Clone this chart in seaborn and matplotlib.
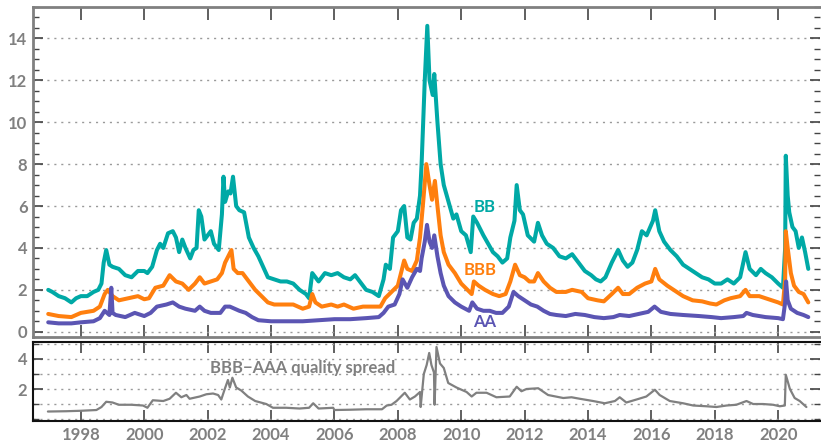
import numpy as np
import pandas as pd
import matplotlib
matplotlib.use("Agg")
import matplotlib.pyplot as plt
from matplotlib.ticker import MultipleLocator
import seaborn as sns

# ---- data (decimal year, spread in %) ----
bb_t = [1996.97, 1997.1, 1997.3, 1997.5, 1997.7, 1997.85, 1998.0, 1998.2, 1998.4, 1998.55,
        1998.65, 1998.72, 1998.8, 1998.9, 1999.0, 1999.2, 1999.4, 1999.6, 1999.8, 2000.0,
        2000.1, 2000.25, 2000.4, 2000.5, 2000.6, 2000.75, 2000.9, 2001.0, 2001.1, 2001.2,
        2001.3, 2001.45, 2001.55, 2001.65, 2001.72, 2001.8, 2001.9, 2002.0, 2002.1, 2002.2,
        2002.35, 2002.45, 2002.5, 2002.55, 2002.65, 2002.72, 2002.8, 2002.9, 2003.0, 2003.15,
        2003.3, 2003.45, 2003.6, 2003.75, 2003.9, 2004.1, 2004.3, 2004.5, 2004.7, 2004.9,
        2005.1, 2005.2, 2005.3, 2005.4, 2005.5, 2005.7, 2005.9, 2006.1, 2006.3, 2006.5,
        2006.65, 2006.8, 2007.0, 2007.2, 2007.4, 2007.55, 2007.62, 2007.75, 2007.85, 2008.0,
        2008.1, 2008.2, 2008.3, 2008.4, 2008.5, 2008.6, 2008.7, 2008.75, 2008.85, 2008.93,
        2009.0, 2009.1, 2009.15, 2009.25, 2009.35, 2009.45, 2009.6, 2009.75, 2009.85, 2010.0,
        2010.15, 2010.3, 2010.38, 2010.5, 2010.7, 2010.85, 2011.0, 2011.15, 2011.3, 2011.45,
        2011.55, 2011.68, 2011.75, 2011.85, 2011.95, 2012.1, 2012.3, 2012.42, 2012.55, 2012.7,
        2012.9, 2013.1, 2013.3, 2013.5, 2013.7, 2013.9, 2014.1, 2014.25, 2014.4, 2014.55,
        2014.75, 2014.95, 2015.1, 2015.25, 2015.4, 2015.55, 2015.7, 2015.85, 2016.05, 2016.12,
        2016.25, 2016.4, 2016.6, 2016.8, 2017.0, 2017.2, 2017.4, 2017.6, 2017.8, 2018.0,
        2018.2, 2018.4, 2018.6, 2018.8, 2018.97, 2019.1, 2019.3, 2019.45, 2019.6, 2019.8,
        2020.0, 2020.15, 2020.22, 2020.24, 2020.3, 2020.35, 2020.45, 2020.55, 2020.65, 2020.75,
        2020.85, 2020.95]
bb_v = [2.0, 1.9, 1.7, 1.6, 1.4, 1.6, 1.7, 1.7, 1.9, 2.0,
        2.3, 3.3, 3.9, 3.2, 3.1, 3.0, 2.7, 2.6, 2.9, 2.9,
        2.8, 3.1, 3.9, 4.2, 4.0, 4.7, 4.8, 4.5, 3.8, 4.4,
        4.0, 3.5, 3.9, 4.0, 5.8, 5.5, 4.4, 4.6, 4.8, 4.2,
        3.9, 5.6, 7.4, 6.2, 6.7, 6.6, 7.4, 6.0, 5.8, 5.7,
        4.5, 4.0, 3.6, 3.1, 2.6, 2.5, 2.4, 2.4, 2.3, 2.0,
        1.8, 1.6, 2.8, 2.6, 2.4, 2.8, 2.7, 2.8, 2.6, 2.5,
        2.7, 2.4, 2.0, 1.9, 1.7, 2.5, 3.2, 3.0, 4.5, 4.8,
        5.8, 6.0, 4.5, 4.4, 5.2, 5.4, 6.5, 8.0, 12.0, 14.6,
        12.0, 11.3, 12.3, 10.0, 8.0, 7.0, 6.2, 5.4, 5.6, 4.8,
        4.6, 3.8, 5.5, 5.2, 4.6, 4.2, 3.8, 3.6, 3.3, 3.5,
        4.5, 5.3, 7.0, 5.8, 5.6, 4.6, 4.3, 5.2, 4.6, 4.2,
        4.0, 3.6, 3.5, 3.7, 3.3, 2.9, 2.7, 2.5, 2.4, 2.6,
        3.3, 3.9, 3.4, 3.1, 3.3, 3.9, 4.8, 4.6, 5.3, 5.8,
        4.8, 4.3, 3.9, 3.6, 3.2, 3.0, 2.8, 2.6, 2.5, 2.3,
        2.3, 2.5, 2.3, 2.6, 3.8, 3.0, 2.7, 3.0, 2.8, 2.6,
        2.3, 2.1, 4.0, 8.4, 6.5, 5.7, 5.0, 4.8, 4.0, 4.5,
        3.8, 3.0]

bbb_t = [1996.97, 1997.3, 1997.7, 1998.0, 1998.4, 1998.6, 1998.75, 1998.85, 1999.0, 1999.2,
         1999.5, 1999.8, 2000.0, 2000.15, 2000.35, 2000.6, 2000.8, 2001.0, 2001.2, 2001.4,
         2001.6, 2001.75, 2001.9, 2002.1, 2002.3, 2002.45, 2002.55, 2002.65, 2002.75, 2002.82,
         2002.95, 2003.1, 2003.3, 2003.5, 2003.7, 2003.9, 2004.1, 2004.4, 2004.7, 2005.0,
         2005.2, 2005.3, 2005.4, 2005.6, 2005.9, 2006.1, 2006.3, 2006.6, 2006.9, 2007.2,
         2007.45, 2007.6, 2007.8, 2008.0, 2008.2, 2008.3, 2008.45, 2008.6, 2008.7, 2008.8,
         2008.9, 2009.0, 2009.08, 2009.17, 2009.25, 2009.35, 2009.45, 2009.6, 2009.8, 2010.0,
         2010.2, 2010.33, 2010.4, 2010.55, 2010.75, 2011.0, 2011.2, 2011.4, 2011.55, 2011.7,
         2011.85, 2012.0, 2012.15, 2012.3, 2012.42, 2012.6, 2012.8, 2013.0, 2013.3, 2013.5,
         2013.8, 2014.0, 2014.3, 2014.5, 2014.75, 2014.95, 2015.1, 2015.3, 2015.55, 2015.8,
         2016.0, 2016.12, 2016.25, 2016.5, 2016.8, 2017.0, 2017.3, 2017.6, 2017.85, 2018.05,
         2018.3, 2018.5, 2018.8, 2018.97, 2019.1, 2019.4, 2019.6, 2019.8, 2020.0, 2020.15,
         2020.22, 2020.24, 2020.3, 2020.4, 2020.5, 2020.65, 2020.8, 2020.95]
bbb_v = [0.85, 0.75, 0.7, 0.9, 1.0, 1.2, 1.8, 2.0, 1.7, 1.5,
         1.6, 1.7, 1.55, 1.6, 2.1, 2.2, 2.7, 2.4, 2.3, 2.0,
         2.3, 2.6, 2.3, 2.4, 2.5, 2.8, 3.3, 3.6, 3.9, 3.0,
         2.8, 2.8, 2.4, 2.0, 1.7, 1.4, 1.3, 1.3, 1.3, 1.1,
         1.2, 1.8, 1.4, 1.2, 1.3, 1.2, 1.3, 1.1, 1.2, 1.2,
         1.2, 1.6, 1.9, 2.2, 3.4, 3.0, 2.9, 3.4, 4.5, 6.2,
         8.0, 7.0, 6.3, 7.2, 6.0, 4.6, 3.8, 3.2, 2.8, 2.3,
         2.0, 1.8, 2.4, 2.2, 2.0, 1.8, 1.7, 1.8, 2.4, 3.2,
         2.7, 2.6, 2.4, 2.4, 2.8, 2.4, 2.1, 1.9, 1.9, 2.0,
         1.9, 1.6, 1.5, 1.45, 1.8, 2.1, 1.8, 1.8, 2.1, 2.3,
         2.4, 3.0, 2.5, 2.2, 1.9, 1.7, 1.5, 1.45, 1.35, 1.3,
         1.5, 1.6, 1.7, 2.0, 1.7, 1.7, 1.6, 1.5, 1.4, 1.3,
         2.5, 4.8, 4.0, 2.8, 2.2, 1.9, 1.8, 1.4]

aa_t = [1996.97, 1997.3, 1997.7, 1998.0, 1998.4, 1998.6, 1998.75, 1998.9, 1998.96, 1999.0,
        1999.1, 1999.4, 1999.7, 2000.0, 2000.2, 2000.4, 2000.7, 2000.9, 2001.1, 2001.3,
        2001.6, 2001.75, 2001.9, 2002.1, 2002.4, 2002.55, 2002.7, 2002.85, 2003.0, 2003.2,
        2003.4, 2003.6, 2004.0, 2004.5, 2005.0, 2005.5, 2006.0, 2006.5, 2007.0, 2007.4,
        2007.55, 2007.7, 2007.9, 2008.05, 2008.15, 2008.3, 2008.45, 2008.6, 2008.7, 2008.75,
        2008.85, 2008.92, 2009.0, 2009.08, 2009.15, 2009.25, 2009.35, 2009.45, 2009.6, 2009.8,
        2010.0, 2010.25, 2010.35, 2010.5, 2010.7, 2010.9, 2011.1, 2011.3, 2011.5, 2011.65,
        2011.8, 2012.0, 2012.2, 2012.4, 2012.6, 2012.8, 2013.0, 2013.3, 2013.6, 2013.9,
        2014.2, 2014.5, 2014.8, 2015.0, 2015.3, 2015.6, 2015.9, 2016.1, 2016.3, 2016.6,
        2017.0, 2017.5, 2017.9, 2018.2, 2018.6, 2018.9, 2019.0, 2019.2, 2019.6, 2020.0,
        2020.15, 2020.22, 2020.25, 2020.3, 2020.4, 2020.6, 2020.8, 2020.95]
aa_v = [0.45, 0.4, 0.4, 0.45, 0.5, 0.65, 1.0, 0.8, 2.1, 0.9,
        0.8, 0.7, 0.9, 0.75, 0.9, 1.2, 1.3, 1.4, 1.2, 1.1,
        1.0, 1.2, 1.0, 0.9, 0.9, 1.2, 1.2, 1.1, 1.0, 0.9,
        0.7, 0.55, 0.5, 0.5, 0.5, 0.55, 0.6, 0.6, 0.65, 0.7,
        0.9, 1.2, 1.3, 1.8, 2.5, 2.1, 2.6, 3.0, 2.9, 3.5,
        4.3, 5.1, 4.3, 4.0, 4.6, 3.6, 2.8, 2.2, 1.7, 1.4,
        1.2, 1.0, 1.4, 1.1, 1.0, 1.0, 0.9, 0.9, 1.2, 1.9,
        1.7, 1.5, 1.3, 1.2, 1.0, 0.85, 0.8, 0.75, 0.85, 0.8,
        0.7, 0.65, 0.7, 0.8, 0.75, 0.85, 0.95, 1.2, 0.95, 0.85,
        0.8, 0.75, 0.7, 0.65, 0.7, 0.75, 0.9, 0.8, 0.7, 0.65,
        0.6, 1.4, 2.4, 1.5, 1.1, 0.9, 0.8, 0.7]

spr_t = [1996.96, 1997.54, 1998.0, 1998.49, 1998.65, 1998.8, 1999.0, 1999.2, 1999.6, 1999.96,
         2000.1, 2000.27, 2000.6, 2000.8, 2001.0, 2001.17, 2001.33, 2001.43, 2001.75, 2001.96,
         2002.17, 2002.33, 2002.43, 2002.54, 2002.64, 2002.7, 2002.78, 2002.9, 2003.06, 2003.27,
         2003.5, 2003.85, 2004.06, 2004.48, 2004.9, 2005.2, 2005.33, 2005.5, 2005.96, 2006.0,
         2006.5, 2007.0, 2007.5, 2007.65, 2007.8, 2007.96, 2008.22, 2008.38, 2008.54, 2008.7,
         2008.72, 2008.82, 2008.91, 2008.99, 2009.06, 2009.14, 2009.16, 2009.22, 2009.33, 2009.45,
         2009.59, 2009.85, 2010.17, 2010.33, 2010.48, 2010.8, 2011.11, 2011.53, 2011.75, 2011.9,
         2012.06, 2012.43, 2012.74, 2013.22, 2013.48, 2013.74, 2014.16, 2014.53, 2014.85, 2015.0,
         2015.21, 2015.53, 2015.84, 2016.11, 2016.26, 2016.58, 2017.0, 2017.32, 2017.74, 2018.05,
         2018.37, 2018.68, 2019.0, 2019.21, 2019.52, 2019.84, 2020.05, 2020.21, 2020.24, 2020.37,
         2020.52, 2020.68, 2020.89]
spr_v = [0.5, 0.52, 0.55, 0.6, 0.8, 1.15, 1.1, 0.95, 0.95, 0.9,
         0.75, 1.25, 1.2, 1.35, 1.75, 1.45, 1.6, 1.35, 1.5, 1.65,
         1.7, 1.6, 1.3, 2.0, 2.6, 2.1, 2.75, 2.1, 1.9, 1.5,
         1.2, 1.0, 0.75, 0.75, 0.7, 0.75, 1.05, 0.7, 0.75, 0.6,
         0.62, 0.65, 0.65, 0.9, 0.95, 1.2, 1.75, 1.3, 1.5, 1.8,
         0.8, 3.0, 3.6, 4.4, 3.6, 3.1, 0.95, 4.8, 3.7, 3.4,
         2.4, 2.1, 1.8, 1.5, 1.75, 1.75, 1.45, 1.5, 2.15, 1.85,
         2.0, 2.05, 1.6, 1.4, 1.45, 1.35, 1.2, 1.05, 1.2, 1.45,
         1.1, 1.3, 1.5, 1.95, 1.6, 1.2, 1.05, 0.9, 0.85, 0.8,
         0.9, 0.95, 1.2, 1.0, 1.0, 0.95, 0.85, 0.9, 2.95, 2.0,
         1.4, 1.2, 0.8]

years = list(range(1998, 2021, 2))
series_names = ["BB", "BBB", "AA"]
colors = {"BB": "#00a9a6", "BBB": "#ff7f0e", "AA": "#5b55b3"}

top = pd.concat([
    pd.DataFrame({"year": bb_t, "spread": bb_v, "rating": "BB"}),
    pd.DataFrame({"year": bbb_t, "spread": bbb_v, "rating": "BBB"}),
    pd.DataFrame({"year": aa_t, "spread": aa_v, "rating": "AA"}),
], ignore_index=True)
quality = pd.DataFrame({"year": spr_t, "spread": spr_v})

sns.set_style("white")
plt.rcParams["font.family"] = ["Lato", "DejaVu Sans"]

fig = plt.figure(figsize=(8.21, 4.47), dpi=100)
ax = fig.add_axes([0.0402, 0.2461, 0.9586, 0.7383])
ax2 = fig.add_axes([0.0402, 0.0582, 0.9586, 0.1767])

sns.lineplot(data=top, x="year", y="spread", hue="rating", hue_order=series_names,
             palette=colors, estimator=None, sort=False, linewidth=2.9,
             legend=False, ax=ax)
sns.lineplot(data=quality, x="year", y="spread", estimator=None, sort=False,
             color="#808080", linewidth=1.6, ax=ax2)

xlim = (1996.49, 2021.32)
tick_grey = "#808080"
for a in (ax, ax2):
    a.set_xlim(*xlim)
    a.set_xticks(years)
    a.set_xlabel("")
    a.set_ylabel("")
    a.spines["right"].set_visible(False)
    a.tick_params(axis="x", which="major", direction="in", length=9, width=1.2,
                  color="#444444", top=True, bottom=True)
    a.tick_params(axis="y", which="both", direction="in", left=True, right=True,
                  color="#444444", labelcolor=tick_grey, labelsize=12, pad=4)
    a.tick_params(axis="y", which="major", length=7, width=1.2)
    a.tick_params(axis="y", which="minor", length=4, width=1.0)

# top panel
ax.set_ylim(-0.25, 15.5)
ax.set_yticks(range(0, 15, 2))
ax.yaxis.set_minor_locator(MultipleLocator(0.5))
ax.set_yticklabels([str(v) for v in range(0, 15, 2)], fontweight="bold")
ax.tick_params(axis="x", labelbottom=False)
ax.grid(axis="y", which="major", linestyle=(0, (1.5, 3.5)), color="#9a9a9a", linewidth=1)
for s in ("left", "top", "bottom"):
    ax.spines[s].set_color("#808080")
    ax.spines[s].set_linewidth(2)

ax.text(2010.75, 5.95, "BB", color=colors["BB"], fontsize=12, fontweight="bold",
        ha="center", va="center")
ax.text(2010.6, 2.94, "BBB", color=colors["BBB"], fontsize=12, fontweight="bold",
        ha="center", va="center")
ax.text(2010.75, 0.46, "AA", color=colors["AA"], fontsize=12, fontweight="bold",
        ha="center", va="center")

# bottom panel
ax2.set_ylim(-0.13, 5.13)
ax2.set_yticks([2, 4])
ax2.set_yticklabels(["2", "4"], fontweight="bold")
ax2.yaxis.set_minor_locator(MultipleLocator(1))
ax2.grid(axis="y", which="both", linestyle=(0, (1.5, 3.5)), color="#9a9a9a", linewidth=1)
ax2.tick_params(axis="x", which="major", length=8, labelsize=12, labelcolor=tick_grey, pad=4)
for lab in ax2.get_xticklabels():
    lab.set_fontweight("bold")
for s in ("left", "top", "bottom"):
    ax2.spines[s].set_color("#111111")
    ax2.spines[s].set_linewidth(1.5)
ax2.text(2004.99, 3.42, "BBB\u2212AAA quality spread", color="#808080", fontsize=12,
         fontweight="bold", ha="center", va="center")

fig.savefig("out.png", dpi=100)
